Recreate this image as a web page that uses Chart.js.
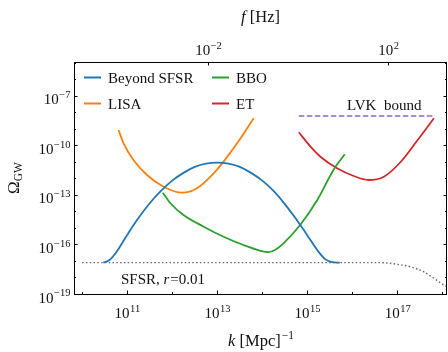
<!DOCTYPE html>
<html>
<head>
<meta charset="utf-8">
<script src="https://cdn.jsdelivr.net/npm/chart.js@4.4.0/dist/chart.umd.min.js"></script>
<style>
  html, body { margin: 0; padding: 0; background: #fff; }
  #wrap { width: 448px; height: 352px; }
</style>
</head>
<body>
<div id="wrap"><canvas id="chart" width="448" height="352"></canvas></div>
<script>
// all values are log10, k in Mpc^-1, f in Hz
const kToF = -14.8;
const kMin = 9.82, kMax = 18.1;
const omegaMin = -19, omegaMax = -4.94;

const beyondLogK     = [10.47, 10.6, 10.75, 11.0, 11.25, 11.5, 11.75, 12.0, 12.25, 12.5, 12.75, 13.0, 13.25, 13.5, 13.75, 14.0, 14.25, 14.5, 14.75, 15.0, 15.25, 15.4, 15.55, 15.72];
const beyondLogOmega = [-17.1, -16.96, -16.5, -15.42, -14.4, -13.5, -12.75, -12.13, -11.66, -11.3, -11.1, -11.04, -11.1, -11.3, -11.66, -12.13, -12.75, -13.55, -14.45, -15.45, -16.45, -16.9, -17.07, -17.1];

const lisaLogK     = [10.81, 10.92, 11.14, 11.44, 11.81, 12.22, 12.55, 12.92, 13.14, 13.44, 13.81];
const lisaLogOmega = [-9.06, -9.87, -10.88, -11.79, -12.50, -12.86, -12.59, -11.69, -10.98, -9.87, -8.35];

const bboLogK     = [11.79, 11.96, 12.25, 12.70, 13.14, 13.58, 13.96, 14.14, 14.3, 14.47, 14.84, 15.22, 15.58, 15.83];
const bboLogOmega = [-12.86, -13.50, -14.21, -14.92, -15.53, -16.03, -16.38, -16.46, -16.3, -15.93, -14.82, -13.30, -11.48, -10.53];

const etLogK     = [14.81, 15.07, 15.29, 15.66, 16.03, 16.36, 16.70, 17.07, 17.44, 17.81];
const etLogOmega = [-9.20, -10.07, -10.68, -11.38, -11.85, -12.09, -11.89, -11.0, -9.70, -8.35];

const lvkLogK     = [14.81, 17.81];
const lvkLogOmega = [-8.21, -8.21];

const sfsrLogK     = [10, 11, 12, 13, 14, 15, 16, 16.5, 16.77, 16.99, 17.29, 17.58, 17.81, 18.03, 18.2];
const sfsrLogOmega = [-17.1, -17.1, -17.1, -17.1, -17.1, -17.1, -17.1, -17.1, -17.12, -17.2, -17.35, -17.65, -18.05, -18.45, -18.7];

const xMajor = [11, 13, 15, 17];
const xMinor = [10, 12, 14, 16, 18];
const fMajor = [-2, 2];
const yMajor = [-19, -16, -13, -10, -7];
const yMinor = [-18, -17, -15, -14, -12, -11, -9, -8, -6, -5];

const legendItems = [
  { label: 'Beyond SFSR', color: '#1f77b4', col: 0, row: 0 },
  { label: 'LISA', color: '#ff7f0e', col: 0, row: 1 },
  { label: 'BBO', color: '#2ca02c', col: 1, row: 0 },
  { label: 'ET', color: '#d62728', col: 1, row: 1 }
];

const FONT = '"Liberation Serif", "DejaVu Serif", serif';
const pow10 = v => Math.pow(10, v);
const pts = (lk, lo) => lk.map((v, i) => ({ x: pow10(v), y: pow10(lo[i]) }));

function line(label, lk, lo, color, extra) {
  return Object.assign({
    label,
    data: pts(lk, lo),
    borderColor: color,
    backgroundColor: color,
    borderWidth: 1.8,
    pointRadius: 0,
    fill: false,
    cubicInterpolationMode: 'monotone'
  }, extra || {});
}

function drawPow(ctx, x, y, exp, align, size) {
  const base = '10';
  const sup = exp < 0 ? '\u2212' + Math.abs(exp) : String(exp);
  const supSize = size * 0.7;
  ctx.font = size + 'px ' + FONT;
  const wb = ctx.measureText(base).width;
  ctx.font = supSize + 'px ' + FONT;
  const ws = ctx.measureText(sup).width;
  const x0 = align === 'center' ? x - (wb + ws) / 2 : x - wb - ws;
  ctx.textAlign = 'left';
  ctx.textBaseline = 'alphabetic';
  ctx.font = size + 'px ' + FONT;
  ctx.fillText(base, x0, y);
  ctx.font = supSize + 'px ' + FONT;
  ctx.fillText(sup, x0 + wb + 0.5, y - size * 0.42);
}

const decorations = {
  id: 'decorations',
  afterDraw(chart) {
    const ctx = chart.ctx;
    const a = chart.chartArea;
    const sx = chart.scales.x, sy = chart.scales.y, sf = chart.scales.x2;
    ctx.save();
    ctx.fillStyle = '#000';
    ctx.strokeStyle = '#000';
    ctx.lineWidth = 1;

    // frame
    ctx.strokeRect(a.left + 0.5, a.top + 0.5, a.right - a.left - 1, a.bottom - a.top);

    // ticks, pointing inwards
    ctx.beginPath();
    const tickX = (v, len) => {
      const px = Math.round(sx.getPixelForValue(pow10(v))) + 0.5;
      ctx.moveTo(px, a.bottom); ctx.lineTo(px, a.bottom - len);
    };
    xMajor.forEach(v => tickX(v, 3.5));
    xMinor.forEach(v => tickX(v, 2));
    fMajor.forEach(v => {
      const px = Math.round(sf.getPixelForValue(pow10(v))) + 0.5;
      ctx.moveTo(px, a.top); ctx.lineTo(px, a.top + 3.5);
    });
    const tickY = (v, len) => {
      const py = Math.round(sy.getPixelForValue(pow10(v))) + 0.5;
      ctx.moveTo(a.left, py); ctx.lineTo(a.left + len, py);
      ctx.moveTo(a.right, py); ctx.lineTo(a.right - len, py);
    };
    yMajor.forEach(v => tickY(v, 3.5));
    yMinor.forEach(v => tickY(v, 2));
    ctx.stroke();

    // tick labels
    ctx.fillStyle = '#111';
    xMajor.forEach(v => drawPow(ctx, sx.getPixelForValue(pow10(v)), a.bottom + 24, v, 'center', 15));
    fMajor.forEach(v => drawPow(ctx, sf.getPixelForValue(pow10(v)), a.top - 7, v, 'center', 15));
    yMajor.forEach(v => drawPow(ctx, a.left - 4, sy.getPixelForValue(pow10(v)) + 8.5, v, 'right', 15));

    // axis titles
    const cx = (a.left + a.right) / 2;
    ctx.textBaseline = 'alphabetic';
    ctx.textAlign = 'left';
    ctx.font = 'italic 16.5px ' + FONT;
    const wf = ctx.measureText('f').width;
    ctx.font = '16.5px ' + FONT;
    const wHz = ctx.measureText(' [Hz]').width;
    let x0 = cx - (wf + wHz) / 2;
    ctx.font = 'italic 16.5px ' + FONT;
    ctx.fillText('f', x0, 22);
    ctx.font = '16.5px ' + FONT;
    ctx.fillText(' [Hz]', x0 + wf, 22);

    ctx.font = 'italic 16.5px ' + FONT;
    const wk = ctx.measureText('k').width;
    ctx.font = '16.5px ' + FONT;
    const wM = ctx.measureText(' [Mpc]').width;
    ctx.font = '11.5px ' + FONT;
    const wE = ctx.measureText('\u22121').width;
    x0 = cx - (wk + wM + wE) / 2;
    ctx.font = 'italic 16.5px ' + FONT;
    ctx.fillText('k', x0, 346);
    ctx.font = '16.5px ' + FONT;
    ctx.fillText(' [Mpc]', x0 + wk, 346);
    ctx.font = '11.5px ' + FONT;
    ctx.fillText('\u22121', x0 + wk + wM + 1, 339);

    // Omega_GW, rotated
    ctx.save();
    ctx.translate(19, (a.top + a.bottom) / 2);
    ctx.rotate(-Math.PI / 2);
    ctx.font = '17px ' + FONT;
    const wO = ctx.measureText('\u03A9').width;
    ctx.font = '11.5px ' + FONT;
    const wG = ctx.measureText('GW').width;
    const ox = -(wO + wG) / 2;
    ctx.font = '17px ' + FONT;
    ctx.fillText('\u03A9', ox, 0);
    ctx.font = '11.5px ' + FONT;
    ctx.fillText('GW', ox + wO, 3);
    ctx.restore();

    // legend
    const colX = [84, 212];
    const rowY = [77.5, 103.5];
    legendItems.forEach(it => {
      const lx = colX[it.col], ly = rowY[it.row];
      ctx.strokeStyle = it.color;
      ctx.lineWidth = 2;
      ctx.beginPath();
      ctx.moveTo(lx, ly); ctx.lineTo(lx + 17, ly);
      ctx.stroke();
      ctx.fillStyle = '#111';
      ctx.font = '15px ' + FONT;
      ctx.textAlign = 'left';
      ctx.fillText(it.label, lx + 24, ly + 5);
    });

    // annotations
    ctx.fillStyle = '#111';
    ctx.font = '15px ' + FONT;
    ctx.fillText('LVK  bound', 347, 110);
    ctx.fillText('SFSR, ', 121, 284);
    const ws = ctx.measureText('SFSR, ').width;
    ctx.font = 'italic 15px ' + FONT;
    ctx.fillText('r', 121 + ws, 284);
    const wr = ctx.measureText('r').width;
    ctx.font = '15px ' + FONT;
    ctx.fillText('=0.01', 121 + ws + wr + 1, 284);

    ctx.restore();
  }
};

const fixedSize = size => scale => {
  if (scale.isHorizontal()) scale.height = size; else scale.width = size;
};

const hidden = { display: false };

new Chart(document.getElementById('chart'), {
  type: 'line',
  data: {
    datasets: [
      line('Beyond SFSR', beyondLogK, beyondLogOmega, '#1f77b4', { order: 1 }),
      line('LISA', lisaLogK, lisaLogOmega, '#ff7f0e', { order: 2 }),
      line('BBO', bboLogK, bboLogOmega, '#2ca02c', { order: 3 }),
      line('ET', etLogK, etLogOmega, '#d62728', { order: 4 }),
      line('LVK bound', lvkLogK, lvkLogOmega, '#9467bd', { order: 5, borderWidth: 1.5, borderDash: [5.5, 2.5] }),
      line('SFSR', sfsrLogK, sfsrLogOmega, '#666666', { order: 6, borderWidth: 1.4, borderDash: [1.5, 2.3] })
    ]
  },
  options: {
    responsive: false,
    animation: false,
    layout: { padding: { left: 0, right: 1, top: 0, bottom: 0 } },
    plugins: { legend: hidden, tooltip: { enabled: false } },
    scales: {
      x: {
        type: 'logarithmic', position: 'bottom',
        min: pow10(kMin), max: pow10(kMax),
        ticks: hidden, grid: hidden, border: hidden,
        afterFit: fixedSize(58)
      },
      x2: {
        type: 'logarithmic', position: 'top',
        min: pow10(kMin + kToF), max: pow10(kMax + kToF),
        ticks: hidden, grid: hidden, border: hidden,
        afterFit: fixedSize(62)
      },
      y: {
        type: 'logarithmic', position: 'left',
        min: pow10(omegaMin), max: pow10(omegaMax),
        ticks: hidden, grid: hidden, border: hidden,
        afterFit: fixedSize(74)
      }
    }
  },
  plugins: [decorations]
});
</script>
</body>
</html>
